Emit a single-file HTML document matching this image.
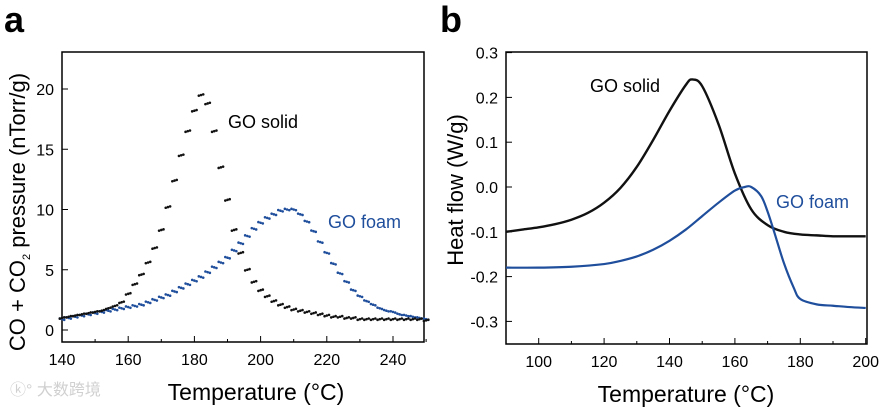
<!DOCTYPE html>
<html><head><meta charset="utf-8"><style>
html,body{margin:0;padding:0;background:#fff;}
svg{display:block;font-family:"Liberation Sans","Noto Sans CJK SC",sans-serif;}
</style></head><body>
<svg id="fig" width="880" height="409" viewBox="0 0 880 409">
<text x="4" y="32" font-size="36" font-weight="bold">a</text>
<text x="440" y="32" font-size="36" font-weight="bold">b</text>
<text x="10" y="395" font-size="16" fill="#d0d0d0">ⓚ° 大数跨境</text>
<g id="pa"></g>
<g id="pb"></g>
</svg>
<script>
const aX=[140,142,144,146,148,150,152,154,156,158,160,162,164,166,168,170,172,174,176,178,180,182,184,186,188,190,192,194,196,198,200,202,204,206,208,210,212,214,216,218,220,222,224,226,228,230,232,234,236,238,240,242,244,246,248,250];
const aSolid=[1,1.1,1.2,1.3,1.4,1.5,1.6,1.8,2.0,2.3,3.0,3.8,4.6,5.6,6.8,8.3,10.2,12.4,14.5,16.5,18.2,19.5,18.8,16.5,13.5,10.8,8.3,6.4,5.0,4.0,3.3,2.8,2.4,2.1,1.9,1.7,1.6,1.5,1.4,1.3,1.2,1.1,1.1,1.0,1.0,0.9,0.9,0.9,0.9,0.9,0.9,0.9,0.9,0.9,0.9,0.8];
const aFoam=[0.9,1.0,1.1,1.2,1.3,1.4,1.5,1.6,1.7,1.8,1.9,2.0,2.1,2.3,2.5,2.7,2.9,3.2,3.5,3.8,4.1,4.4,4.8,5.2,5.6,6.0,6.6,7.2,7.8,8.4,8.9,9.3,9.6,9.9,10.0,10.0,9.6,9.0,8.2,7.3,6.4,5.5,4.7,4.0,3.3,2.8,2.4,2.1,1.8,1.6,1.5,1.3,1.2,1.1,1.0,0.9];
const aXTicks=[140,160,180,200,220,240];
const aYTicks=[0,5,10,15,20];
const bSolidX=[90,95,100,105,110,115,120,125,130,135,140,145,147,150,155,160,165,170,175,180,185,190,195,200];
const bSolidY=[-0.10,-0.095,-0.09,-0.083,-0.073,-0.058,-0.035,-0.002,0.045,0.105,0.17,0.228,0.24,0.225,0.14,0.03,-0.05,-0.085,-0.1,-0.106,-0.108,-0.11,-0.11,-0.11];
const bFoamX=[90,100,110,120,125,130,135,140,145,150,155,160,163,165,168,170,172,175,178,180,185,190,195,200];
const bFoamY=[-0.18,-0.18,-0.178,-0.172,-0.165,-0.155,-0.14,-0.12,-0.095,-0.065,-0.035,-0.008,0.0,0.0,-0.02,-0.055,-0.1,-0.17,-0.225,-0.25,-0.262,-0.265,-0.268,-0.27];
const bXTicks=[100,120,140,160,180,200];
const bYTicks=["0.3","0.2","0.1","0.0","-0.1","-0.2","-0.3"];
const NS="http://www.w3.org/2000/svg";
function mk(p,t,a,txt){const e=document.createElementNS(NS,t);for(const k in a)e.setAttribute(k,a[k]);if(txt!==undefined)e.textContent=txt;p.appendChild(e);return e;}
function smooth(pts){let d='M'+pts[0][0]+','+pts[0][1];for(let i=0;i<pts.length-1;i++){const p0=pts[Math.max(0,i-1)],p1=pts[i],p2=pts[i+1],p3=pts[Math.min(pts.length-1,i+2)];
 const c1=[p1[0]+(p2[0]-p0[0])/6,p1[1]+(p2[1]-p0[1])/6],c2=[p2[0]-(p3[0]-p1[0])/6,p2[1]-(p3[1]-p1[1])/6];
 d+=' C'+c1[0]+','+c1[1]+' '+c2[0]+','+c2[1]+' '+p2[0]+','+p2[1];}return d;}
// Panel A
const pa=document.getElementById('pa');
const ax=v=>62+(v-140)*3.31, ay=v=>330-v*12.05;
let r=mk(pa,'rect',{x:62,y:52,width:362,height:290,fill:'none',stroke:'#000','stroke-width':1.5});


for(let v=140;v<=250;v+=10){const x=ax(v);const big=(v%20===0);
 let t=mk(pa,'line',{x1:x,y1:342,x2:x,y2:big?336:339,stroke:'#000'});
 }
aXTicks.forEach(v=>{const x=ax(v);
 let l=mk(pa,'text',{x:x,y:365,'font-size':16,'text-anchor':'middle'},v);
 
 });
aYTicks.forEach(v=>{const y=ay(v);
 let t=mk(pa,'line',{x1:62,y1:y,x2:68,y2:y,stroke:'#000'});
 
 let l=mk(pa,'text',{x:54,y:y+6,'font-size':16,'text-anchor':'end'},v);
 
 });
aX.forEach((v,i)=>{
 [-2.2,0,2.2].forEach(o=>{
 let c=mk(pa,'circle',{cx:ax(v)+o,cy:ay(aFoam[i])+o*0.3,r:1.3,fill:'#1f4e9c'});
 
 });});
aX.forEach((v,i)=>{
 [-2.2,0,2.2].forEach(o=>{
 let d=mk(pa,'circle',{cx:ax(v)+o,cy:ay(aSolid[i])-o*0.3,r:1.3,fill:'#111'});
 
 });});
let t1=mk(pa,'text',{x:228,y:128,'font-size':18},'GO solid');

let t2=mk(pa,'text',{x:328,y:228,'font-size':18,fill:'#1f4e9c'},'GO foam');

let xt=mk(pa,'text',{x:256,y:400,'font-size':23,'text-anchor':'middle'},'Temperature (°C)');

let yt=mk(pa,'text',{x:0,y:0,'font-size':22,'text-anchor':'middle',transform:'translate(25,212) rotate(-90)'});

yt.innerHTML='CO + CO<tspan font-size="11" dy="5">2</tspan><tspan dy="-5"> pressure (nTorr/g)</tspan>';
// Panel B
const pb=document.getElementById('pb');
const bx=v=>506+(v-90)*3.27, by=v=>187-v*448;
r=mk(pb,'rect',{x:506,y:52,width:361,height:292,fill:'none',stroke:'#000','stroke-width':1.5});


for(let v=90;v<=200;v+=10){const x=bx(v);const big=(v%20===0);
 let t=mk(pb,'line',{x1:x,y1:344,x2:x,y2:big?338:341,stroke:'#000'});
 }
bXTicks.forEach(v=>{const x=bx(v);
 let l=mk(pb,'text',{x:x,y:367,'font-size':16,'text-anchor':'middle'},v);
 
 });
bYTicks.forEach(s=>{const y=by(parseFloat(s));
 let t=mk(pb,'line',{x1:506,y1:y,x2:512,y2:y,stroke:'#000'});
 
 let l=mk(pb,'text',{x:498,y:y+6,'font-size':16,'text-anchor':'end'},s);
 
 });
let ps=mk(pb,'path',{d:smooth(bSolidX.map((v,i)=>[bx(v),by(bSolidY[i])])),fill:'none',stroke:'#111','stroke-width':2.4,'stroke-linejoin':'round'});

let pf=mk(pb,'path',{d:smooth(bFoamX.map((v,i)=>[bx(v),by(bFoamY[i])])),fill:'none',stroke:'#1f4e9c','stroke-width':2.2,'stroke-linejoin':'round'});

let t3=mk(pb,'text',{x:590,y:92,'font-size':18},'GO solid');

let t4=mk(pb,'text',{x:776,y:208,'font-size':18,fill:'#1f4e9c'},'GO foam');

let xt2=mk(pb,'text',{x:686,y:402,'font-size':23,'text-anchor':'middle'},'Temperature (°C)');

let yt2=mk(pb,'text',{x:0,y:0,'font-size':22,'text-anchor':'middle',transform:'translate(463,190) rotate(-90)'},'Heat flow (W/g)');

</script>
</body></html>
